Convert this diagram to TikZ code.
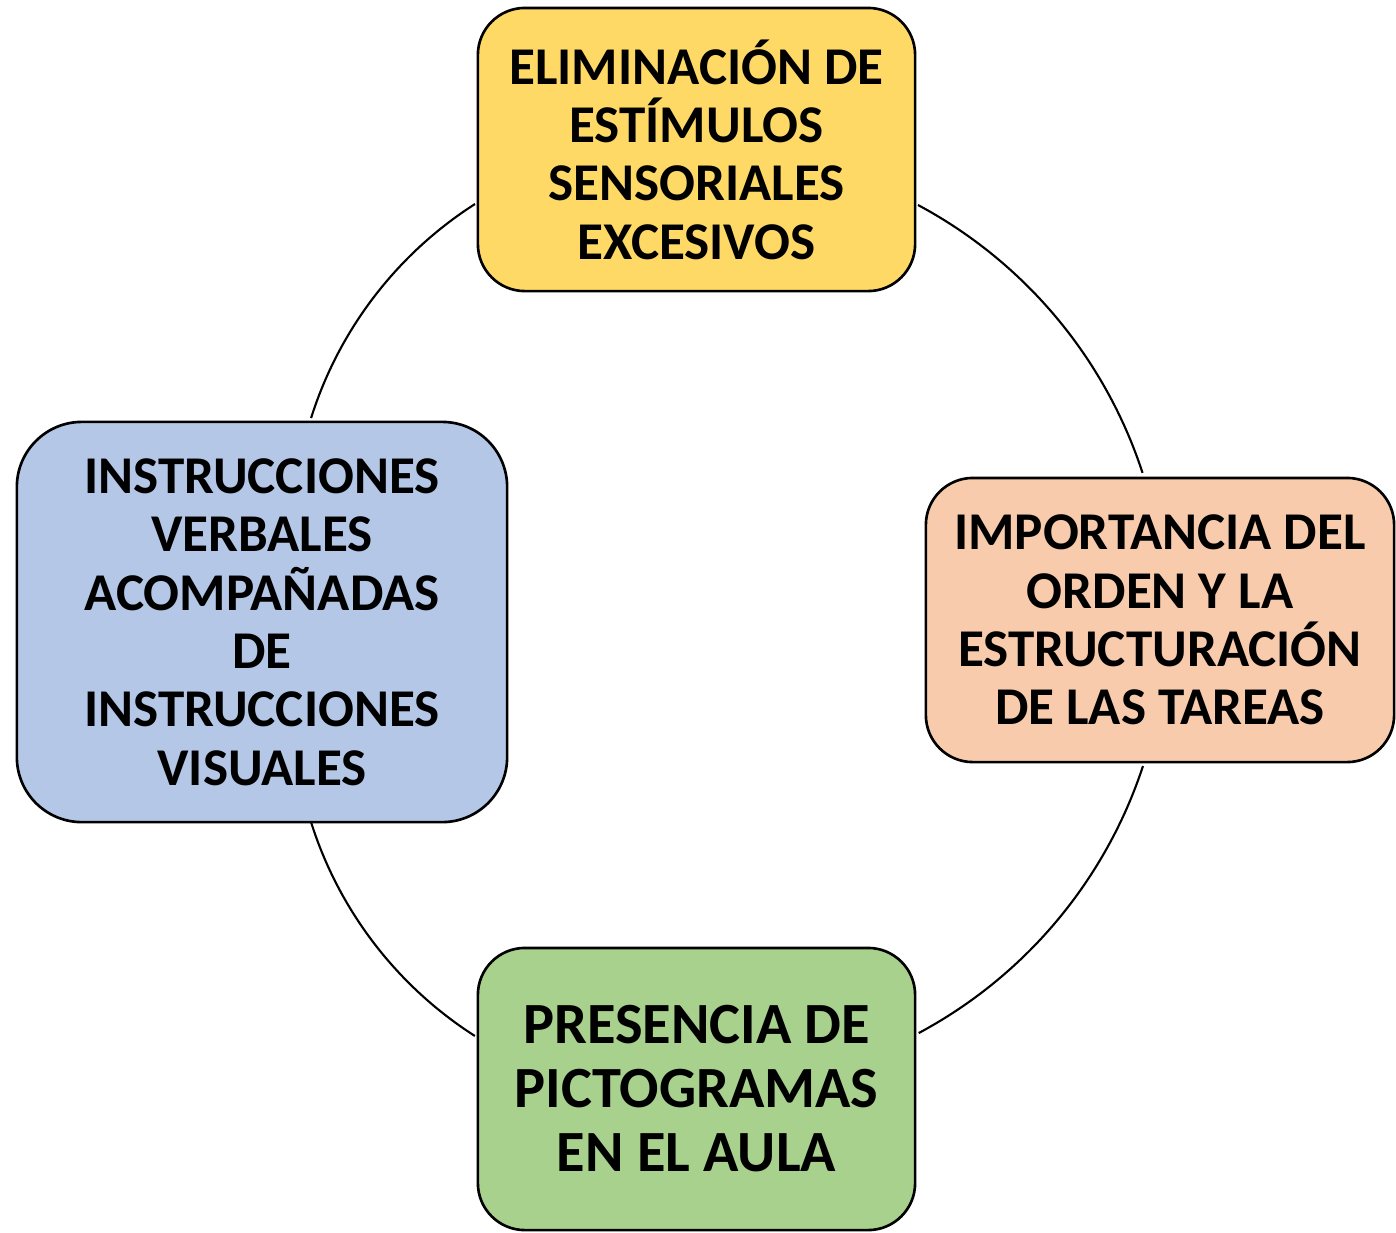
\documentclass[tikz,border=0pt]{standalone}
\usepackage{fontspec}
\setmainfont{Carlito}
\definecolor{cyellow}{HTML}{FFD966}
\definecolor{corange}{HTML}{F8CBAD}
\definecolor{cblue}{HTML}{B4C7E7}
\definecolor{cgreen}{HTML}{A9D18E}
\begin{document}
\begin{tikzpicture}[x=0.01cm,y=0.01cm,
  box/.style={draw=black, line width=0.75pt, rounded corners=0.47cm, align=center,
    font=\fontsize{15.1pt}{16.6pt}\selectfont\bfseries, inner sep=0pt},
  ring/.style={draw=black, line width=0.6pt}]
\useasboundingbox (0,0) rectangle (1396,-1232);
% arc end points
\coordinate (ur) at (918,-205);
\coordinate (lr) at (1143,-766);
\coordinate (ul) at (475,-204);
\coordinate (ll) at (311,-822);
\draw[ring] (ur) arc[start angle=61.85, end angle=18.1, radius=469];
\draw[ring] (lr) arc[start angle=-18.2, end angle=-61.85, radius=469];
\draw[ring] (ul) arc[start angle=122.6, end angle=162.5, radius=395];
\draw[ring] (ll) arc[start angle=-162.5, end angle=-122.6, radius=395];
% boxes
\node[box, fill=cyellow, minimum width=4.37cm, minimum height=2.83cm] (top) at (696.5,-149.5)
  {ELIMINACIÓN DE\\ESTÍMULOS\\SENSORIALES\\EXCESIVOS};
\node[box, fill=corange, minimum width=4.68cm, minimum height=2.84cm] (right) at (1160,-620)
  {IMPORTANCIA DEL\\ORDEN Y LA\\ESTRUCTURACIÓN\\DE LAS TAREAS};
\node[box, fill=cblue, rounded corners=0.65cm, minimum width=4.90cm, minimum height=4.00cm] (left) at (262,-622)
  {INSTRUCCIONES\\VERBALES\\ACOMPAÑADAS\\DE\\INSTRUCCIONES\\VISUALES};
\node[box, fill=cgreen, minimum width=4.37cm, minimum height=2.82cm,
  font=\fontsize{16.6pt}{18.2pt}\selectfont\bfseries] (bottom) at (696.5,-1089)
  {PRESENCIA DE\\PICTOGRAMAS\\EN EL AULA};
\end{tikzpicture}
\end{document}
